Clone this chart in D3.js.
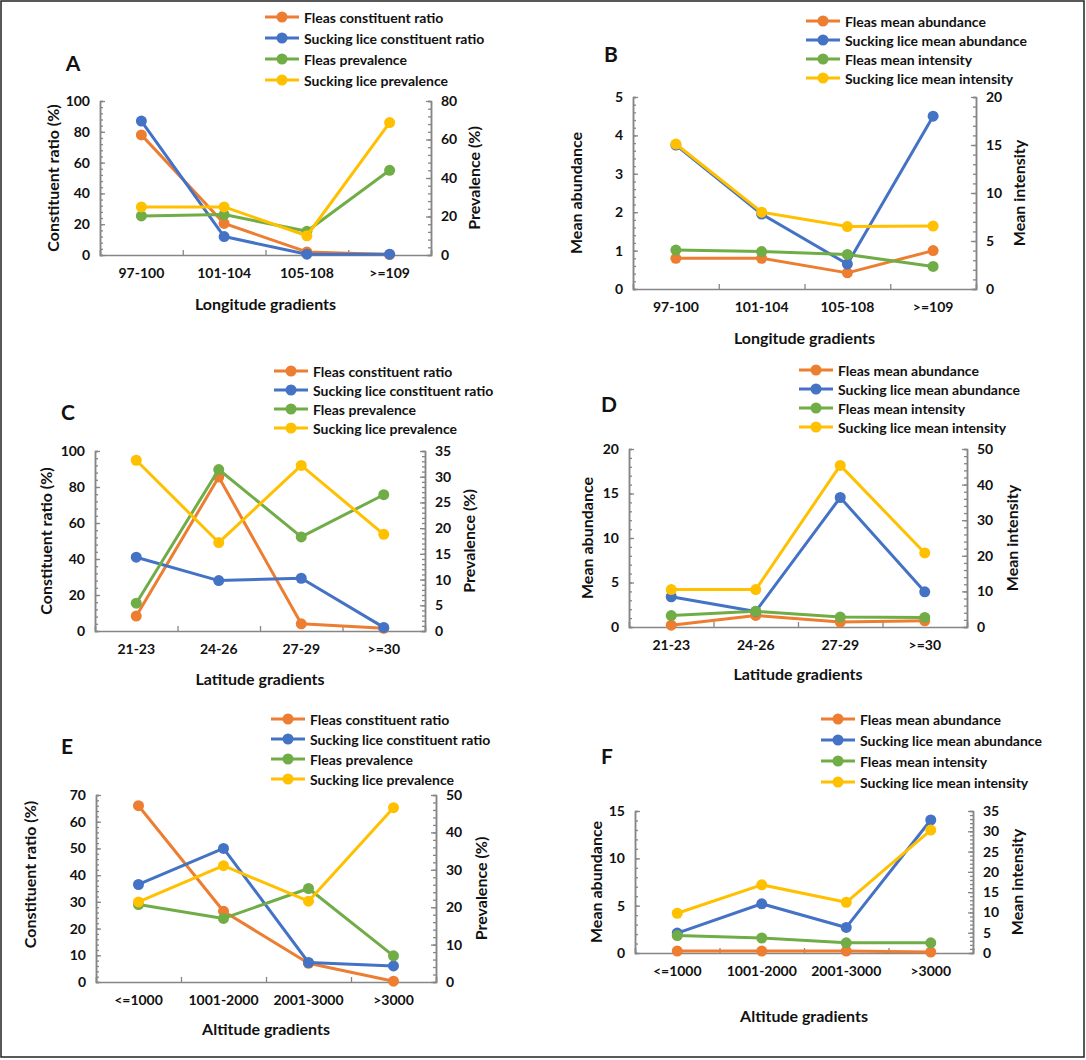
<!DOCTYPE html>
<html>
<head>
<meta charset="utf-8">
<script src="https://cdn.jsdelivr.net/npm/d3@7"></script>
<style>
  html, body { margin: 0; padding: 0; background: #fff; }
  svg { display: block; font-family: Lato, "Open Sans", sans-serif; font-weight: 700; fill: #111; }
</style>
</head>
<body>
<div id="chart"></div>
<script>
// categories
const longitudeCats = ['97-100', '101-104', '105-108', '>=109'];
const latitudeCats = ['21-23', '24-26', '27-29', '>=30'];
const altitudeCats = ['<=1000', '1001-2000', '2001-3000', '>3000'];

// series names
const ratioNames = ['Fleas constituent ratio', 'Sucking lice constituent ratio', 'Fleas prevalence', 'Sucking lice prevalence'];
const abundNames = ['Fleas mean abundance', 'Sucking lice mean abundance', 'Fleas mean intensity', 'Sucking lice mean intensity'];

// A: longitude, constituent ratio (left) / prevalence (right)
const fleasRatioA = [78, 20.5, 2, 0.3];
const liceRatioA = [87, 12, 0.5, 0.5];
const fleasPrevA = [20.3, 21, 12.3, 44];
const licePrevA = [25, 25, 10, 68.8];

// B: longitude, mean abundance (left) / mean intensity (right)
const fleasAbundB = [0.8, 0.8, 0.42, 1.0];
const liceAbundB = [3.75, 1.95, 0.65, 4.5];
const fleasIntB = [4.05, 3.9, 3.6, 2.35];
const liceIntB = [15.1, 8.0, 6.5, 6.55];

// C: latitude
const fleasRatioC = [8.3, 85.5, 4, 1.5];
const liceRatioC = [41, 28, 29.3, 2];
const fleasPrevC = [5.4, 31.4, 18.3, 26.5];
const licePrevC = [33.2, 17.2, 32.2, 18.8];

// D: latitude
const fleasAbundD = [0.2, 1.3, 0.55, 0.7];
const liceAbundD = [3.4, 1.75, 14.55, 3.95];
const fleasIntD = [3.2, 4.4, 2.8, 2.7];
const liceIntD = [10.5, 10.5, 45.4, 20.8];

// E: altitude
const fleasRatioE = [66, 26.5, 7, 0.3];
const liceRatioE = [36.5, 50, 7.3, 6];
const fleasPrevE = [20.7, 17, 25, 7];
const licePrevE = [21.4, 31.1, 21.6, 46.6];

// F: altitude
const fleasAbundF = [0.2, 0.2, 0.2, 0.1];
const liceAbundF = [2.1, 5.2, 2.7, 14.05];
const fleasIntF = [4.3, 3.7, 2.5, 2.5];
const liceIntF = [9.8, 16.8, 12.5, 30.3];

// axis ranges [max, major step]
const leftAxes = { A: [100, 20], B: [5, 1], C: [100, 20], D: [20, 5], E: [70, 10], F: [15, 5] };
const rightAxes = { A: [80, 20], B: [20, 5], C: [35, 5], D: [50, 10], E: [50, 10], F: [35, 5] };

const COLORS = ['#ED7D31', '#4472C4', '#70AD47', '#FFC000'];
const AXIS_COLOR = '#868686';

const W = 1086, H = 1060;
const svg = d3.select('#chart').append('svg').attr('width', W).attr('height', H);
svg.append('rect').attr('x', 1).attr('y', 1).attr('width', W - 3).attr('height', H - 4)
  .attr('fill', '#fff').attr('stroke', '#222').attr('stroke-width', 1.5);

const panels = [
  { id: 'A', cats: longitudeCats, names: ratioNames, left: [fleasRatioA, liceRatioA], right: [fleasPrevA, licePrevA],
    box: [100, 431, 101, 255], yTitle: 'Constituent ratio (%)', y2Title: 'Prevalence (%)', xTitle: 'Longitude gradients',
    yTitleX: 52, y2TitleX: 473, xTitleY: 303, lab: [73, 62], leg: [265, 17, 21] },
  { id: 'B', cats: longitudeCats, names: abundNames, left: [fleasAbundB, liceAbundB], right: [fleasIntB, liceIntB],
    box: [633, 976, 97, 289], yTitle: 'Mean abundance', y2Title: 'Mean intensity', xTitle: 'Longitude gradients',
    yTitleX: 575, y2TitleX: 1018, xTitleY: 337, lab: [611, 53], leg: [806, 21, 19] },
  { id: 'C', cats: latitudeCats, names: ratioNames, left: [fleasRatioC, liceRatioC], right: [fleasPrevC, licePrevC],
    box: [95, 425, 451, 631], yTitle: 'Constituent ratio (%)', y2Title: 'Prevalence (%)', xTitle: 'Latitude gradients',
    yTitleX: 45, y2TitleX: 468, xTitleY: 678, lab: [68, 411], leg: [274, 371, 19] },
  { id: 'D', cats: latitudeCats, names: abundNames, left: [fleasAbundD, liceAbundD], right: [fleasIntD, liceIntD],
    box: [629, 967, 449, 627], yTitle: 'Mean abundance', y2Title: 'Mean intensity', xTitle: 'Latitude gradients',
    yTitleX: 586, y2TitleX: 1011, xTitleY: 673, lab: [609, 403], leg: [799, 370, 19] },
  { id: 'E', cats: altitudeCats, names: ratioNames, left: [fleasRatioE, liceRatioE], right: [fleasPrevE, licePrevE],
    box: [96, 436, 795, 982], yTitle: 'Constituent ratio (%)', y2Title: 'Prevalence (%)', xTitle: 'Altitude gradients',
    yTitleX: 29, y2TitleX: 480, xTitleY: 1028, lab: [67, 745], leg: [271, 719, 20], yTitleDy: -14 },
  { id: 'F', cats: altitudeCats, names: abundNames, left: [fleasAbundF, liceAbundF], right: [fleasIntF, liceIntF],
    box: [635, 973, 811, 953], yTitle: 'Mean abundance', y2Title: 'Mean intensity', xTitle: 'Altitude gradients',
    yTitleX: 595, y2TitleX: 1016, xTitleY: 1015, lab: [607, 755], leg: [821, 719, 21] },
];

function styleAxis(g) {
  g.selectAll('path.domain').attr('stroke', AXIS_COLOR).attr('stroke-width', 1.5);
  g.selectAll('.tick line').attr('stroke', AXIS_COLOR).attr('stroke-width', 1.3);
  g.selectAll('.tick text').attr('fill', '#111').style('font-size', '14px').style('font-weight', 700)
    .style('font-family', 'Lato, sans-serif');
}

function drawPanel(p) {
  const [x0, x1, y0, y1] = p.box;
  const g = svg.append('g').attr('class', 'panel-' + p.id);

  const x = d3.scaleBand().domain(p.cats).range([x0, x1]);
  const xEdge = d3.scaleLinear().domain([0, p.cats.length]).range([x0, x1]);
  const [lMax, lStep] = leftAxes[p.id];
  const [rMax, rStep] = rightAxes[p.id];
  const yL = d3.scaleLinear().domain([0, lMax]).range([y1, y0]);
  const yR = d3.scaleLinear().domain([0, rMax]).range([y1, y0]);
  const fmt = d3.format('~g');

  // minor ticks
  g.append('g').attr('transform', `translate(${x0},0)`)
    .call(d3.axisLeft(yL).tickValues(d3.range(0, lMax + 1e-9, lStep / 5)).tickSize(-3).tickFormat(''))
    .call(styleAxis);
  g.append('g').attr('transform', `translate(${x1},0)`)
    .call(d3.axisRight(yR).tickValues(d3.range(0, rMax + 1e-9, rStep / 5)).tickSize(-3).tickFormat(''))
    .call(styleAxis);

  // major ticks with labels
  g.append('g').attr('transform', `translate(${x0},0)`)
    .call(d3.axisLeft(yL).tickValues(d3.range(0, lMax + 1e-9, lStep)).tickFormat(fmt)
      .tickSizeInner(-5).tickSizeOuter(0).tickPadding(10))
    .call(styleAxis);
  g.append('g').attr('transform', `translate(${x1},0)`)
    .call(d3.axisRight(yR).tickValues(d3.range(0, rMax + 1e-9, rStep)).tickFormat(fmt)
      .tickSizeInner(-5).tickSizeOuter(0).tickPadding(10))
    .call(styleAxis);

  // x axis: boundary ticks + category labels
  g.append('g').attr('transform', `translate(0,${y1})`)
    .call(d3.axisBottom(xEdge).ticks(p.cats.length).tickSize(-5).tickFormat(''))
    .call(styleAxis);
  g.append('g').attr('transform', `translate(0,${y1})`)
    .call(d3.axisBottom(x).tickSize(0).tickPadding(13))
    .call(styleAxis)
    .call((a) => a.select('path.domain').remove());

  // series: left axis first, then right axis
  const series = [
    { vals: p.left[0], y: yL, c: COLORS[0] },
    { vals: p.left[1], y: yL, c: COLORS[1] },
    { vals: p.right[0], y: yR, c: COLORS[2] },
    { vals: p.right[1], y: yR, c: COLORS[3] },
  ];
  const cx = (i) => x(p.cats[i]) + x.bandwidth() / 2;
  series.forEach((s) => {
    const line = d3.line().x((d, i) => cx(i)).y((d) => s.y(d));
    g.append('path').datum(s.vals).attr('d', line).attr('fill', 'none')
      .attr('stroke', s.c).attr('stroke-width', 3).attr('stroke-linejoin', 'round');
    g.selectAll(null).data(s.vals).join('circle')
      .attr('cx', (d, i) => cx(i)).attr('cy', (d) => s.y(d)).attr('r', 5.5).attr('fill', s.c);
  });

  // titles
  const midY = (y0 + y1) / 2;
  g.append('text').attr('transform', `translate(${p.yTitleX},${midY + (p.yTitleDy || 0)}) rotate(-90)`)
    .attr('text-anchor', 'middle').attr('dominant-baseline', 'central').style('font-size', '16px').text(p.yTitle);
  g.append('text').attr('transform', `translate(${p.y2TitleX},${midY}) rotate(-90)`)
    .attr('text-anchor', 'middle').attr('dominant-baseline', 'central').style('font-size', '16px').text(p.y2Title);
  g.append('text').attr('x', (x0 + x1) / 2).attr('y', p.xTitleY)
    .attr('text-anchor', 'middle').attr('dominant-baseline', 'central').style('font-size', '16px').text(p.xTitle);
  g.append('text').attr('x', p.lab[0]).attr('y', p.lab[1])
    .attr('text-anchor', 'middle').attr('dominant-baseline', 'central').style('font-size', '21px').text(p.id);

  // legend
  const [lx, ly, lstep] = p.leg;
  const leg = g.append('g').selectAll('g').data(p.names).join('g')
    .attr('transform', (d, i) => `translate(${lx},${ly + i * lstep})`);
  leg.append('line').attr('x1', 0).attr('x2', 34).attr('stroke', (d, i) => COLORS[i]).attr('stroke-width', 3);
  leg.append('circle').attr('cx', 17).attr('r', 5.5).attr('fill', (d, i) => COLORS[i]);
  leg.append('text').attr('x', 39).attr('dominant-baseline', 'central').style('font-size', '14px').text((d) => d);
}

panels.forEach(drawPanel);
</script>
</body>
</html>
